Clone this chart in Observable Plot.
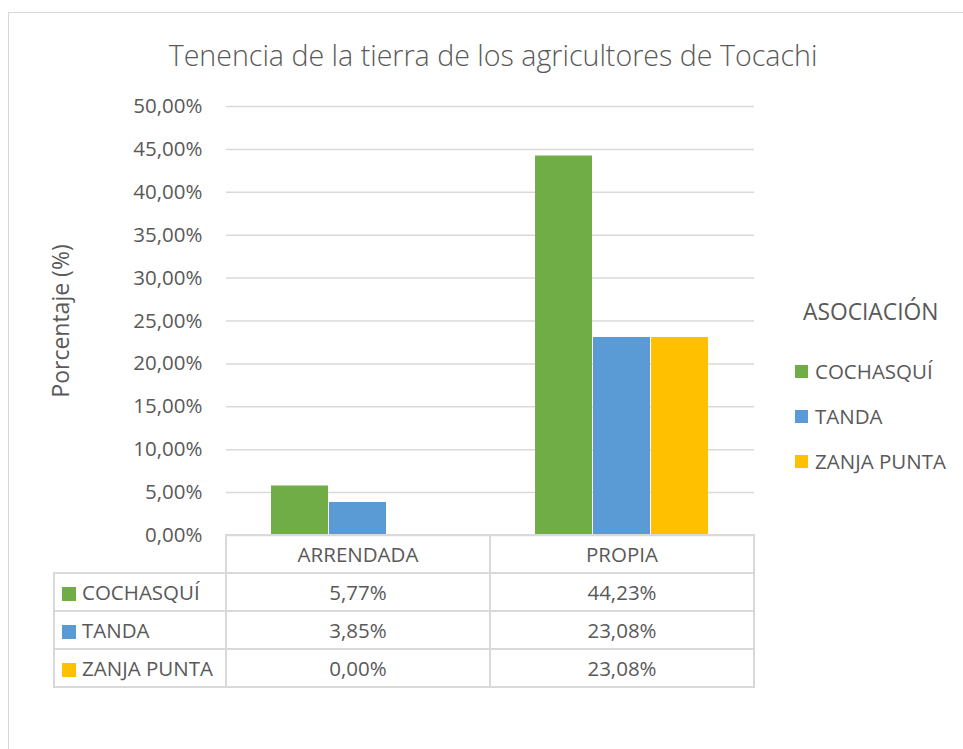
<!DOCTYPE html>
<html><head><meta charset="utf-8">
<script src="https://cdn.jsdelivr.net/npm/d3@7"></script>
<script src="https://cdn.jsdelivr.net/npm/@observablehq/plot@0.6"></script>
<style>
body{margin:0;background:#fff;}
#chart{position:relative;width:963px;height:749px;overflow:hidden;font-family:"Open Sans",sans-serif;color:#595959;}
#frame{position:absolute;left:8px;top:12px;width:970px;height:760px;border:1.5px solid #d9d9d9;box-sizing:border-box;}
#title{position:absolute;left:0;top:35px;width:986px;text-align:center;font-size:28.6px;font-weight:300;color:#595959;white-space:nowrap;}
#ylabel{position:absolute;left:60px;top:321px;transform:translate(-50%,-50%) rotate(-90deg);font-size:23px;white-space:nowrap;}
#legend{position:absolute;left:795px;top:297px;}
#legend .lt{position:absolute;left:8px;top:-1px;font-size:22.8px;white-space:nowrap;}
#legend .li{position:absolute;left:0;font-size:20.5px;white-space:nowrap;display:flex;align-items:center;}
.sw{display:inline-block;width:13px;height:13px;margin-right:7px;}
#table{position:absolute;left:53px;top:534px;border-collapse:collapse;table-layout:fixed;font-size:20.5px;color:#595959;}
#table td{border:2px solid #d9d9d9;height:36px;padding:0;text-align:center;white-space:nowrap;}
#table td.rl{text-align:left;padding-left:7px;}
#table td.blank{border-top:none;border-left:none;}
svg{position:absolute;left:0;top:0;}
</style></head><body><div id="chart"><div id="frame"></div></div>
<script>
const chartTitle = "Tenencia de la tierra de los agricultores de Tocachi";
const yAxisLabel = "Porcentaje (%)";
const legendTitle = "ASOCIACIÓN";
const categories = ["ARRENDADA", "PROPIA"];
const series = ["COCHASQUÍ", "TANDA", "ZANJA PUNTA"];
const cochasqui = [5.77, 44.23];
const tanda = [3.85, 23.08];
const zanjaPunta = [0.00, 23.08];
const seriesColors = ["#70AD47", "#5B9BD5", "#FFC000"];
const yTicks = [0, 5, 10, 15, 20, 25, 30, 35, 40, 45, 50];

const seriesValues = [cochasqui, tanda, zanjaPunta];
const fmt = v => v.toFixed(2).replace(".", ",") + "%";
const data = categories.flatMap((c, i) => series.map((s, j) => ({category: c, series: s, value: seriesValues[j][i]})));

const chart = document.getElementById("chart");

const plot = Plot.plot({
  width: 963, height: 749,
  marginLeft: 226, marginRight: 209, marginTop: 106, marginBottom: 214,
  style: {fontFamily: "Open Sans", fontSize: "20px", color: "#595959", background: "transparent", overflow: "visible"},
  fx: {domain: categories, padding: 0, axis: null},
  x: {domain: series, paddingInner: 0, paddingOuter: 0.74, axis: null},
  y: {domain: [0, 50], axis: null},
  color: {domain: series, range: seriesColors},
  marks: [
    Plot.ruleY(yTicks, {y: d => d, stroke: "#d9d9d9", strokeWidth: 1.5}),
    Plot.barY(data, {fx: "category", x: "series", y: "value", fill: "series", insetRight: 1}),
    Plot.axisY(yTicks, {tickSize: 0, tickPadding: 24, tickFormat: fmt, label: null, fontSize: 20.5, fill: "#595959"})
  ]
});
chart.appendChild(plot);

const t = document.createElement("div"); t.id = "title"; t.textContent = chartTitle; chart.appendChild(t);
const yl = document.createElement("div"); yl.id = "ylabel"; yl.textContent = yAxisLabel; chart.appendChild(yl);

const lg = document.createElement("div"); lg.id = "legend";
const lt = document.createElement("div"); lt.className = "lt"; lt.textContent = legendTitle; lg.appendChild(lt);
series.forEach((s, j) => {
  const li = document.createElement("div"); li.className = "li";
  li.style.top = (60 + j * 45) + "px";
  li.innerHTML = `<span class="sw" style="background:${seriesColors[j]}"></span>${s}`;
  lg.appendChild(li);
});
chart.appendChild(lg);

const tb = document.createElement("table"); tb.id = "table";
const colW = [172, 264, 264];
const cg = document.createElement("colgroup");
colW.forEach(w => { const c = document.createElement("col"); c.style.width = w + "px"; cg.appendChild(c); });
tb.appendChild(cg);
const hr = document.createElement("tr");
const blank = document.createElement("td"); blank.className = "blank"; hr.appendChild(blank);
categories.forEach(c => { const td = document.createElement("td"); td.textContent = c; hr.appendChild(td); });
tb.appendChild(hr);
series.forEach((s, j) => {
  const tr = document.createElement("tr");
  const td0 = document.createElement("td"); td0.className = "rl";
  td0.innerHTML = `<span class="sw" style="background:${seriesColors[j]};width:14px;height:14px;margin-right:6px;vertical-align:-1px"></span>${s}`;
  tr.appendChild(td0);
  categories.forEach((c, i) => { const td = document.createElement("td"); td.textContent = fmt(seriesValues[j][i]); tr.appendChild(td); });
  tb.appendChild(tr);
});
chart.appendChild(tb);
</script></body></html>
